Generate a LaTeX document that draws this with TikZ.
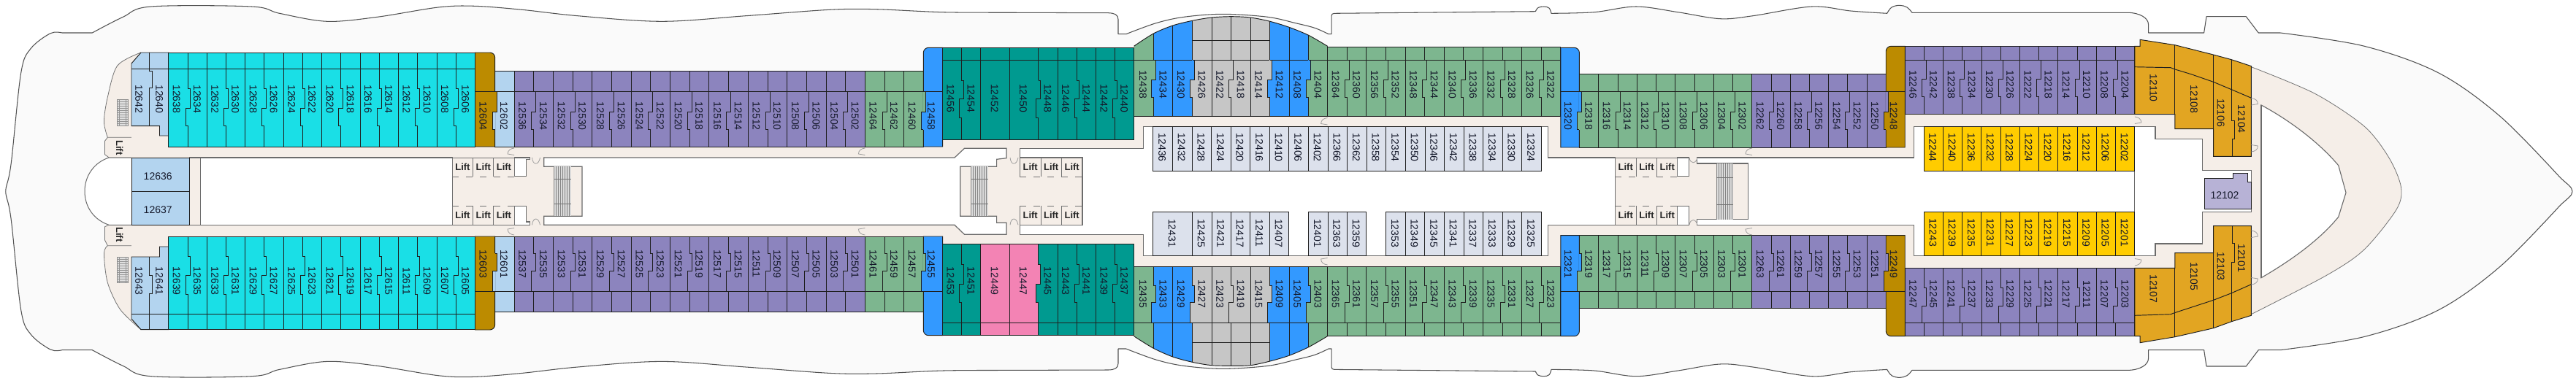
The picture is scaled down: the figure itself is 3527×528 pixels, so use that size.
\documentclass[tikz,border=0pt]{standalone}
\usepackage{fontspec}
\setmainfont{Liberation Sans}
\definecolor{ccyan}{HTML}{1ADFE6}
\definecolor{clblue}{HTML}{B3D4EF}
\definecolor{cgold}{HTML}{BC8B00}
\definecolor{cpurple}{HTML}{8C84BE}
\definecolor{cgreen}{HTML}{7DB68F}
\definecolor{cblue}{HTML}{3399FF}
\definecolor{cteal}{HTML}{009A90}
\definecolor{cgrey}{HTML}{C6C6C6}
\definecolor{cpale}{HTML}{DCE1EC}
\definecolor{cyellow}{HTML}{FFCC00}
\definecolor{corange}{HTML}{E2A522}
\definecolor{cpink}{HTML}{F383B4}
\definecolor{clav}{HTML}{B7B2D6}
\definecolor{cbeige}{HTML}{F5EEE8}
\definecolor{cdeck}{HTML}{FAFAFA}
\definecolor{cink}{HTML}{14182A}
\tikzset{
 wall/.style={draw=black!88,line width=0.95pt,line join=miter},
 hull/.style={draw=black!68,line width=1.05pt,line join=round},
 corr/.style={draw=black!58,line width=1.2pt},
 thin/.style={draw=black!55,line width=0.8pt},
 doorl/.style={draw=black!38,line width=0.8pt},
 cab/.style={inner sep=0pt,rotate=-90,text=cink,font=\fontsize{14}{14}\selectfont},
 cabh/.style={inner sep=0pt,text=cink,font=\fontsize{14}{14}\selectfont},
 lifttxt/.style={inner sep=0pt,text=black!85,font=\bfseries\fontsize{13}{13}\selectfont}
}
\newcommand\setrow[7]{\def\Yt{#1}\def\Yb{#2}\def\Ye{#3}\def\Ja{#4}\def\Jb{#5}\def\Jc{#6}\def\Ly{#7}}
\newcommand\cabins[5]{%
 \gdef\NN{0}%
 \foreach \q in {#5}{\pgfmathtruncatemacro\tmpn{\NN+1}\global\let\NN\tmpn}%
 \fill[#1] (#2,\Yt) rectangle (#3,\Ye);
 \draw[wall] (#2,\Yt) rectangle (#3,\Ye);
 \draw[wall] (#2,\Yb) -- (#3,\Yb);
 \foreach \lab [count=\i] in {#5}{%
  \pgfmathsetmacro\xm{#2+(\i-.5)*(#3-#2)/\NN}%
  \pgfmathsetmacro\xr{#2+\i*(#3-#2)/\NN}%
  \pgfmathtruncatemacro\rj{#4<2 ? (mod(\i+#4,2)==0 ? 1 : 0) : 0}%
  \pgfmathtruncatemacro\lj{#4<2 ? (mod(\i-1+#4,2)==0 ? 1 : 0) : 0}%
  \pgfmathsetmacro\lsh{\rj==1 ? -2.2 : (\lj==1 ? -0.3 : -1)}%
  \node[cab,name=c\lab] at (\xm+\lsh,\Ly) {\lab};
  \ifnum\i<\NN
   \ifnum\rj=1
    \draw[wall] (\xr,\Yt)--(\xr,\Ja)--(\xr+3,\Ja)--(\xr+3,\Jb)--(\xr-3,\Jb)--(\xr-3,\Jc)--(\xr,\Jc)--(\xr,\Ye);
   \else
    \draw[wall] (\xr,\Yt)--(\xr,\Ye);
   \fi
  \fi
 }}
\newcommand\bwall[3]{%
 \fill[#2] (#1-.6,\Ja) rectangle (#1+3,\Jb);
 \fill[#3] (#1-3,\Jb) rectangle (#1+.6,\Jc);
 \draw[wall] (#1,\Ja)--(#1+3,\Ja)--(#1+3,\Jb)--(#1-3,\Jb)--(#1-3,\Jc)--(#1,\Jc);}
\newcommand\tallcab[7]{% colour, plain x, rounded x, outer y, inner y, balcony y, label
 \filldraw[wall,fill=#1] (#2,#5)--(#2,#4)[rounded corners=7pt]--(#3,#4)[sharp corners]--(#3,#5)--cycle;
 \draw[wall] (#2,#6)--(#3,#6);
 \pgfmathsetmacro\xm{(#2+#3)/2-2.6}%
 \node[cab,name=c#7] at (\xm,\Ly) {#7};}
\newcommand\lifts[5]{%
 \draw[thin] (#1,216)--(#1,242) (#2,216)--(#2,242) (#3,216)--(#3,242) (#4,216)--(#4,242);
 \draw[thin] (#1,282.3)--(#1,308.3) (#2,282.3)--(#2,308.3) (#3,282.3)--(#3,308.3) (#4,282.3)--(#4,308.3);
 \draw[thin,dash pattern=on 9pt off 10pt] (#1,242.3)--(#4+4,242.3) (#1,282.3)--(#4+4,282.3);
 \draw[thin] (#1,216)--(#4,216) (#1,308.3)--(#4,308.3);
 \pgfmathsetmacro\la{(#1+#2)/2}\pgfmathsetmacro\lb{(#2+#3)/2}\pgfmathsetmacro\lc{(#3+#4)/2}%
 \node[lifttxt,name=l#5a] at (\la,229) {Lift};
 \node[lifttxt,name=l#5b] at (\lb,229) {Lift};
 \node[lifttxt,name=l#5c] at (\lc,229) {Lift};
 \node[lifttxt,name=l#5d] at (\la,295) {Lift};
 \node[lifttxt,name=l#5e] at (\lb,295) {Lift};
 \node[lifttxt,name=l#5f] at (\lc,295) {Lift};}
\newcommand\stairsv[6]{% xa xb ya yb ym1 ym2
 \fill[black!14] (#1,#3) rectangle (#2,#4);
 \foreach \sx in {0,3,...,21}{\draw[black!48,line width=0.7pt] (#1+\sx,#3)--(#1+\sx,#4);}
 \draw[black!55,line width=0.8pt] (#1,#5)--(#2,#5) (#1,#6)--(#2,#6);}
\newcommand\grate[4]{% xa xb ya yb
 \filldraw[fill=black!12,draw=black!45,line width=0.7pt] (#1,#3) rectangle (#2,#4);
 \foreach \sy in {3,6,...,34}{\draw[black!42,line width=0.6pt] (#1,#3+\sy)--(#2,#3+\sy);}
 \draw[black!42,line width=0.6pt] (#1+2.5,#3)--(#1+2.5,#4) (#2-2.5,#3)--(#2-2.5,#4);}
\newcommand\door[4]{\draw[doorl,shift={(#1,#2)},xscale=#3,yscale=#4] (0,0) .. controls (-5,0.5) and (-9,3) .. (-9,8) -- (0,9.5);}
\newcommand\doorU[3]{\draw[doorl] (#1,#2) .. controls (#1+1,#2+#3) and (#1+9,#2+#3) .. (#1+11,#2);}
\def\shippath{plot[smooth,tension=0.55] coordinates {(8,262.35)(8.4,256.7)(15.3,223.3)(28.7,100)(42,66.7)(69,45.7)(85,45)} -- (126.3,45)
 -- plot[smooth,tension=0.55] coordinates {(126.3,45)(168.4,23.3)(206.7,9)(344.4,9)(382.7,18.3)(447.7,29.3)(516.6,23.3)(600,10)(649.8,8.3)(714.8,13.3)(791,21.7)(906,29.3)(1021,21.7)(1135.8,13.3)(1200,12.7)(1291.8,16.7)(1400,17.3)(1517.6,17.7)}
 .. controls (1526,18) and (1531,20) .. (1531,26.7) -- (1531,46.7) -- (1541.8,46.7)
 -- plot[smooth,tension=0.55] coordinates {(1541.8,46.7)(1582.7,31.7)(1621,23.3)(1674.5,19.3)(1735.8,23.3)(1774,31.7)(1800,38.3)(1819,46.7)}
 -- (1823,46.7) -- (1823,21.7) .. controls (1823,19.5) and (1824.5,18.4) .. (1826.8,18.3) -- (2102.3,15.7)
 -- plot[smooth,tension=0.6] coordinates {(2102.3,15.7)(2106,10.5)(2113.8,9)(2121,11)(2124,18.3)}
 -- plot[smooth,tension=0.55] coordinates {(2124,18.3)(2182.7,16.7)(2240,9)(2297.5,16.7)(2355,25.7)(2400,21.7)(2480.4,9)(2534,15)(2583.7,18.3)}
 -- plot[smooth,tension=0.6] coordinates {(2583.7,18.3)(2590,10)(2601,7.3)(2611,10)(2618,17.3)}
 -- (2912.8,17.3) .. controls (2930,17.3) and (2941.5,25) .. (2941.5,33.3) -- (2941.5,45) -- (3017.6,45) -- (3021,22.7) -- (3075.3,22.7) -- (3092.2,45) -- (3122,45)
 -- plot[smooth,tension=0.55] coordinates {(3122,45)(3237.3,63.3)(3339,100)(3423.7,160)(3505,243)}
 .. controls (3514,252) and (3522,256) .. (3522,262.35)}
\def\arcT{plot[smooth] coordinates {(1552.5,63.3)(1579.3,46)(1605.7,35)(1632.5,28.3)(1658.9,24)(1685.6,22.7)(1712,24)(1738.8,29.3)(1764.9,37.3)(1791.6,48.3)(1817.6,63.3)}}
\def\arcB{plot[smooth] coordinates {(1552.5,460.7)(1579.3,477.3)(1605.7,489)(1632.5,496.3)(1658.9,500.7)(1685.6,501.3)(1712,500.7)(1738.8,495)(1764.9,487.3)(1791.6,475.7)(1817.6,460.7)}}
\newcommand\arcbalc[3]{% clip path macro, y from, y to
 \begin{scope}
  \clip #1 -- (1817.6,#2) -- (1552.5,#2) -- cycle;
  \fill[cgreen] (1552.5,#3) rectangle (1579.3,#2);
  \fill[cblue] (1579.3,#3) rectangle (1632.5,#2);
  \fill[cgrey] (1632.5,#3) rectangle (1738.8,#2);
  \fill[cblue] (1738.8,#3) rectangle (1791.6,#2);
  \fill[cgreen] (1791.6,#3) rectangle (1817.6,#2);
  \foreach \wx in {1579.3,1605.9,1632.5,1659.1,1685.7,1712.3,1738.8,1765.2,1791.6,1817.6}{\draw[wall] (\wx,#3)--(\wx,#2);}
 \end{scope}
 \draw[wall] #1;}
\begin{document}
\begin{tikzpicture}[x=1pt,y=-1pt]
\useasboundingbox (0,0) rectangle (3527,528);
\fill[white] (0,0) rectangle (3527,528);
% deck
\fill[cdeck] \shippath -- cycle;
\draw[hull] \shippath;
\begin{scope}[shift={(0,524.7)},yscale=-1]
\fill[cdeck] \shippath -- cycle;
\draw[hull] \shippath;
\end{scope}
\draw[cdeck,line width=1.5pt] (9,262.35)--(3521,262.35);
% stern beige
\fill[cbeige] plot[smooth] coordinates {(193,72)(160.7,90)(147.3,133.3)(142.4,166.7)(147.3,188.3)} -- (143.5,193.3)--(143.5,211.7)--(149.3,216)--(200,216)--(200,72)--cycle;
\draw[thin] plot[smooth] coordinates {(193,72)(160.7,90)(147.3,133.3)(142.4,166.7)(147.3,188.3)} -- (180,188.3);
\draw[thin] (147.3,188.3)--(143.5,193.3)--(143.5,211.7)--(149.3,216)--(180,216);
\fill[cbeige] plot[smooth] coordinates {(193,451.7)(164.5,424)(147.3,387.3)(142.4,347.3)(147.3,336.7)} -- (143.5,329)--(143.5,310.7)--(149.3,308.3)--(200,308.3)--(200,451.7)--cycle;
\draw[thin] plot[smooth] coordinates {(193,451.7)(164.5,424)(147.3,387.3)(142.4,347.3)(147.3,336.7)} -- (180,336.7);
\draw[thin] (147.3,336.7)--(143.5,329)--(143.5,310.7)--(149.3,308.3)--(180,308.3);
\draw[thin] (180,188.3)--(180,192) (180,212)--(180,216) (180,308.3)--(180,312) (180,332)--(180,336.7);
% stern notch
\filldraw[fill=white,draw=black!58,line width=1pt] (180,216)--(149.3,216) .. controls (130,222) and (116,240) .. (116,262) .. controls (116,285) and (130,302) .. (149.3,308.3)--(180,308.3);
% bow crescent
\fill[cbeige] plot[smooth] coordinates {(3082.4,91.7)(3169.5,128.3)(3237.3,173.3)(3271.2,216.7)(3287.5,256.7)(3281,287.3)(3237,342)(3186,377)(3082.4,430.7)} -- cycle;
\draw[thin] plot[smooth] coordinates {(3082.4,91.7)(3169.5,128.3)(3237.3,173.3)(3271.2,216.7)(3287.5,256.7)(3281,287.3)(3237,342)(3186,377)(3082.4,430.7)};
% main floor
\fill[cbeige] (180,130) rectangle (3096,395);
\filldraw[fill=white,draw=black!58,line width=1.1pt] (3096,144) .. controls (3135,165) and (3175,195) .. (3201.7,226.7) -- (3212,264) -- (3201.7,297.3) .. controls (3175,330) and (3135,358) .. (3096,380.7) -- cycle;
% holes
\filldraw[fill=white,corr] (274.4,216) rectangle (619.1,308.3);
\draw[corr] (259,216)--(274.4,216) (259,308.3)--(274.4,308.3);
\filldraw[fill=white,corr] (704.1,216)--(725.5,216)--(725.5,218.3)--(720.5,218.3)--(720.5,241.7)--(704.1,241.7)--cycle;
\filldraw[fill=white,corr] (704.1,308.3)--(725.5,308.3)--(725.5,304)--(720.5,304)--(720.5,282.3)--(704.1,282.3)--cycle;
\filldraw[fill=white,corr] (744.7,216)--(1307,216)--(1320.5,203.3)--(1378,203.3)--(1378,216.7)--(1364.6,218.3)--(1364.6,228.3)--(1314.8,228.3)--(1314.8,296.3)--(1364.6,296.3)--(1364.6,305.3)--(1378,305.3)--(1378,321.3)--(1320.5,321.3)--(1307,308.3)--(744.7,308.3)--(744.7,296.3)--(797,296.3)--(797,228.3)--(744.7,228.3)--cycle;
\filldraw[fill=white,corr] (1396.3,203.3)--(1565.5,203.3)--(1565.5,173.7)--(2119.6,173.7)--(2119.6,216)--(2211.4,216)--(2211.4,308.3)--(2119.6,308.3)--(2119.6,350.7)--(1565.5,350.7)--(1565.5,321.3)--(1396.3,321.3)--(1396.3,308.3)--(1482,308.3)--(1482,216)--(1396.3,216)--cycle;
\filldraw[fill=white,corr] (2296.7,216)--(2312.8,216)--(2312.8,241.7)--(2296.7,241.7)--cycle;
\filldraw[fill=white,corr] (2296.7,282.3)--(2312.8,282.3)--(2312.8,308.3)--(2296.7,308.3)--cycle;
\filldraw[fill=white,corr] (2323.5,216)--(2620.8,216)--(2620.8,173.7)--(2922.8,173.7)--(2922.8,350.7)--(2620.8,350.7)--(2620.8,308.3)--(2323.5,308.3)--(2323.5,300.7)--(2393.2,300.7)--(2393.2,224)--(2323.5,224)--cycle;
\filldraw[fill=white,corr] (2922.8,173.7)--(2951,173.7)--(2951,190.7)--(3015.3,190.7)--(3015.3,233.3)--(3082.4,233.3)--(3082.4,290.7)--(3015.3,290.7)--(3015.3,334)--(2951,334)--(2951,350.7)--(2922.8,350.7)--cycle;
\draw[corr] (3096,144)--(3096,380.7);
% lobby details
\lifts{619.1}{647.8}{675.8}{704.1}{A}
\lifts{1396.3}{1425}{1453.3}{1482}{B}
\lifts{2211.4}{2240.1}{2268.8}{2296.7}{C}
\stairsv{758.8}{781.8}{228.3}{296.3}{245.7}{279}
\stairsv{1329.8}{1352.8}{228.3}{296.3}{245.7}{279}
\stairsv{2350.3}{2373.3}{224}{300.7}{243.3}{280}
\grate{160.7}{174.9}{136.7}{172.7}
\grate{160.7}{174.9}{352.3}{387.3}
\node[lifttxt,rotate=-90,name=lS1] at (163.8,202.3) {Lift};
\node[lifttxt,rotate=-90,name=lS2] at (163.8,321.3) {Lift};
% stern cabins
\filldraw[wall,fill=clblue] (180,216) rectangle (259,262.3);
\filldraw[wall,fill=clblue] (180,262.3) rectangle (259,308.3);
\node[cabh,name=c12636] at (216.2,241.7) {12636};
\node[cabh,name=c12637] at (216.2,287.3) {12637};
\filldraw[wall,fill=clblue] (180,94.3)--(180,87)--(193,72)--(230.8,72)--(230.8,186)--(218.5,186)--(218.5,172.7)--(180,172.7)--cycle;
\draw[wall] (180,94.3)--(230.8,94.3);
\draw[wall] (204.7,72)--(204.7,97)--(208.5,97)--(208.5,120)--(204.7,120)--(204.7,172.7);
\node[cab,name=c12642] at (190.2,135.8) {12642};
\node[cab,name=c12640] at (218.1,135.8) {12640};
\filldraw[wall,fill=clblue] (180,352)--(218.5,352)--(218.5,338)--(230.8,338)--(230.8,451.7)--(193,451.7)--(180,437)--cycle;
\draw[wall] (180,430.7)--(230.8,430.7);
\draw[wall] (204.7,352)--(204.7,377.3)--(208.5,377.3)--(208.5,402.3)--(204.7,402.3)--(204.7,451.7);
\node[cab,name=c12643] at (190.2,385.2) {12643};
\node[cab,name=c12641] at (218.1,385.2) {12641};
% --- top side
\setrow{72}{94.3}{201}{121.7}{148.3}{172.7}{135.8}
\cabins{ccyan}{230.8}{650.5}{1}{12638,12634,12632,12630,12628,12626,12624,12622,12620,12618,12616,12614,12612,12610,12608,12606}
\setrow{97.7}{125.7}{201}{125.7}{153.3}{177.7}{159.3}
\cabins{clblue}{677.7}{704.1}{2}{12602}
\cabins{cpurple}{704.1}{1184.4}{1}{12536,12534,12532,12530,12528,12526,12524,12522,12520,12518,12516,12514,12512,12510,12508,12506,12504,12502}
\cabins{cgreen}{1184.4}{1264.3}{1}{12464,12462,12460}
\tallcab{cgold}{650.5}{677.7}{72}{201}{125.7}{12604}
\bwall{677.7}{cgold}{clblue}
\tallcab{cblue}{1290.7}{1264.3}{65.3}{201}{125.7}{12458}
\bwall{1264.3}{cgreen}{cblue}
\setrow{65.3}{82.3}{191}{110}{135}{161.7}{134.5}
\cabins{cteal}{1290.7}{1342.7}{1}{12456,12454}
\cabins{cteal}{1342.7}{1382.5}{2}{12452}
\cabins{cteal}{1382.5}{1421.6}{2}{12450}
\cabins{cteal}{1421.6}{1448}{0}{12448}
\cabins{cteal}{1448}{1500.8}{1}{12446,12444}
\cabins{cteal}{1500.8}{1552.5}{1}{12442,12440}
\bwall{1421.6}{cteal}{cteal}
\arcbalc{\arcT}{82.3}{20}
\draw[wall] (1632.5,55)--(1738.8,55);
\setrow{82.3}{82.3}{159.3}{82.3}{109}{133.3}{115.5}
\cabins{cgreen}{1552.5}{1579.3}{2}{12438}
\cabins{cblue}{1579.3}{1632.5}{0}{12434,12430}
\cabins{cgrey}{1632.5}{1738.8}{0}{12426,12422,12418,12414}
\cabins{cblue}{1738.8}{1791.6}{0}{12412,12408}
\cabins{cgreen}{1791.6}{1817.6}{0}{12404}
\bwall{1579.3}{cgreen}{cblue}
\bwall{1632.5}{cblue}{cgrey}
\bwall{1738.8}{cgrey}{cblue}
\bwall{1791.6}{cblue}{cgreen}
\setrow{64.3}{82.3}{159.3}{82.3}{109}{133.3}{115.5}
\cabins{cgreen}{1817.6}{2136.8}{1}{12364,12360,12356,12352,12348,12344,12340,12336,12332,12328,12326,12322}
\setrow{173.7}{173.7}{234.3}{173.7}{173.7}{173.7}{202.2}
\cabins{cpale}{1578.9}{2110.4}{2}{12436,12432,12428,12424,12420,12416,12410,12406,12402,12366,12362,12358,12354,12350,12346,12342,12338,12334,12330,12324}
\cabins{cyellow}{2634.2}{2922.8}{2}{12244,12240,12236,12232,12228,12224,12220,12216,12212,12206,12202}
\setrow{101}{125.7}{202}{125.7}{153.3}{177.7}{158.8}
\cabins{cgreen}{2162.4}{2398.9}{0}{12318,12316,12314,12312,12310,12308,12306,12304,12302}
\cabins{cpurple}{2398.9}{2582.2}{1}{12262,12260,12258,12256,12254,12252,12250}
\tallcab{cblue}{2136.8}{2162.4}{65.3}{202}{125.7}{12320}
\bwall{2162.4}{cblue}{cgreen}
\tallcab{cgold}{2608.2}{2582.2}{63.3}{202}{125.7}{12248}
\bwall{2582.2}{cpurple}{cgold}
\setrow{63.3}{82.3}{156.7}{82.3}{108.3}{132.7}{115.8}
\cabins{cpurple}{2608.2}{2922.8}{1}{12246,12242,12238,12234,12230,12226,12222,12218,12214,12210,12208,12204}
% --- bottom side
\setrow{324}{430.7}{451.7}{351.3}{377.3}{403.3}{385.2}
\cabins{ccyan}{230.8}{650.5}{1}{12639,12635,12633,12631,12629,12627,12625,12623,12621,12619,12617,12615,12611,12609,12607,12605}
\setrow{324}{399}{427.3}{347.3}{371.7}{399}{361.5}
\cabins{clblue}{677.7}{704.1}{2}{12601}
\cabins{cpurple}{704.1}{1184.4}{1}{12537,12535,12533,12531,12529,12527,12525,12523,12521,12519,12517,12515,12511,12509,12507,12505,12503,12501}
\cabins{cgreen}{1184.4}{1264.3}{1}{12461,12459,12457}
\tallcab{cgold}{650.5}{677.7}{452}{324}{399}{12603}
\bwall{677.7}{cgold}{clblue}
\tallcab{cblue}{1290.7}{1264.3}{459.7}{324}{399}{12455}
\bwall{1264.3}{cgreen}{cblue}
\setrow{334}{442.3}{459.3}{362.7}{389}{414.7}{385.2}
\cabins{cteal}{1290.7}{1342.7}{1}{12453,12451}
\cabins{cpink}{1342.7}{1382.5}{2}{12449}
\cabins{cpink}{1382.5}{1421.6}{2}{12447}
\cabins{cteal}{1421.6}{1448}{0}{12445}
\cabins{cteal}{1448}{1500.8}{1}{12443,12441}
\cabins{cteal}{1500.8}{1552.5}{1}{12439,12437}
\bwall{1421.6}{cpink}{cteal}
\arcbalc{\arcB}{442.3}{505}
\draw[wall] (1632.5,469.7)--(1738.8,469.7);
\setrow{365.7}{442.3}{442.3}{391.7}{414.7}{442.3}{402.8}
\cabins{cgreen}{1552.5}{1579.3}{2}{12435}
\cabins{cblue}{1579.3}{1632.5}{0}{12433,12429}
\cabins{cgrey}{1632.5}{1738.8}{0}{12427,12423,12419,12415}
\cabins{cblue}{1738.8}{1791.6}{0}{12409,12405}
\cabins{cgreen}{1791.6}{1817.6}{0}{12403}
\bwall{1579.3}{cgreen}{cblue}
\bwall{1632.5}{cblue}{cgrey}
\bwall{1738.8}{cgrey}{cblue}
\bwall{1791.6}{cblue}{cgreen}
\setrow{365.7}{442.3}{460.7}{391.7}{414.7}{442.3}{402.8}
\cabins{cgreen}{1817.6}{2136.8}{1}{12365,12361,12357,12355,12351,12347,12343,12339,12335,12331,12327,12323}
\setrow{290.7}{290.7}{350.7}{290.7}{290.7}{290.7}{319.5}
\cabins{cpale}{1578.9}{1632.5}{2}{12431}
\cabins{cpale}{1632.5}{1764.9}{2}{12425,12421,12417,12411,12407}
\cabins{cpale}{1791.6}{1870.8}{2}{12401,12363,12359}
\cabins{cpale}{1897.6}{2110.4}{2}{12353,12349,12345,12341,12337,12333,12329,12325}
\setrow{290.7}{290.7}{350.7}{290.7}{290.7}{290.7}{318.5}
\cabins{cyellow}{2634.2}{2922.8}{2}{12243,12239,12235,12231,12227,12223,12219,12215,12209,12205,12201}
\setrow{322.7}{399.3}{422.3}{347.3}{371.7}{399.3}{361.8}
\cabins{cgreen}{2162.4}{2398.9}{0}{12319,12317,12315,12311,12309,12307,12305,12303,12301}
\cabins{cpurple}{2398.9}{2582.2}{1}{12263,12261,12259,12257,12255,12253,12251}
\tallcab{cblue}{2136.8}{2162.4}{460.7}{322.7}{399.3}{12321}
\bwall{2162.4}{cblue}{cgreen}
\tallcab{cgold}{2608.2}{2582.2}{460.7}{322.7}{399.3}{12249}
\bwall{2582.2}{cpurple}{cgold}
\setrow{367.3}{442.3}{460}{394}{419}{442.3}{403.2}
\cabins{cpurple}{2608.2}{2922.8}{1}{12247,12245,12241,12237,12233,12229,12225,12221,12217,12211,12207,12203}
% --- bow suites
\filldraw[wall,fill=corange] (2922.8,156.7)--(2922.8,63.3)--(2930,63.3)--(2930,54.3)--(2977.9,61.7)--(3030.5,75)--(3055.3,81.7)--(3082.4,90.7)--(3082.4,214.3)--(3030.5,214.3)--(3030.5,176.7)--(2977.9,176.7)--(2977.9,156.7)--cycle;
\draw[wall] (2922.8,91.7)--(2972,92.7)--(2977.9,95)--(3000,101.7)--(3030.5,112.3)--(3055.3,122.7)--(3082.4,134.3);
\draw[wall] (2977.9,61.7)--(2977.9,156.7) (3030.5,75)--(3030.5,176.7);
\draw[wall] (3055.3,81.7)--(3055.3,165)--(3059.3,165)--(3059.3,190)--(3056,190)--(3056,214.3);
\node[cab,name=c12110] at (2948.4,120.8) {12110};
\node[cab,name=c12108] at (3004,136) {12108};
\node[cab,name=c12106] at (3040.7,154.5) {12106};
\node[cab,name=c12104] at (3068.8,163.3) {12104};
\filldraw[wall,fill=corange] (2922.8,367.3)--(2977.9,367.3)--(2977.9,346.7)--(3030.5,346.7)--(3030.5,309.7)--(3082.4,309.7)--(3082.4,432.3)--(3055.3,440.7)--(3030.5,449.7)--(3000,456.7)--(2977.9,461.7)--(2930,469.7)--(2930,460.7)--(2922.8,460.7)--cycle;
\draw[wall] (2922.8,432.3)--(2972,430.7)--(2977.9,428.5)--(3000,421.3)--(3030.5,411.3)--(3055.3,401.7)--(3082.4,389.7);
\draw[wall] (2977.9,367.3)--(2977.9,461.7) (3030.5,346.7)--(3030.5,449.7);
\draw[wall] (3056,309.7)--(3056,333.3)--(3059.3,333.3)--(3059.3,359)--(3055.3,359)--(3055.3,440.7);
\node[cab,name=c12107] at (2948.4,395.7) {12107};
\node[cab,name=c12105] at (3004,378.7) {12105};
\node[cab,name=c12103] at (3040.7,365.2) {12103};
\node[cab,name=c12101] at (3068.8,353.7) {12101};
\filldraw[wall,fill=clav] (3018.6,244.3)--(3057,244.3)--(3057,237.7)--(3077.3,237.7)--(3077.3,249)--(3082.4,249)--(3082.4,286.3)--(3018.6,286.3)--cycle;
\node[cabh,name=c12102] at (3046,268) {12102};
% doors
\door{704.1}{203}{1}{1}\door{1184.4}{203}{1}{1}\door{1817.6}{161.5}{1}{1}\door{2399}{203}{1}{1}
\door{2922.8}{160}{-1}{1}\door{3082.4}{134.5}{-1}{1}\door{3082.4}{208}{-1}{-1}
\door{704.1}{322}{1}{-1}\door{1184.4}{322}{1}{-1}\door{1817.6}{363}{1}{-1}\door{2399}{322}{1}{-1}
\door{2922.8}{364}{-1}{-1}\door{3082.4}{390}{-1}{-1}\door{3082.4}{316}{-1}{1}
\doorU{728.5}{216}{11}\doorU{1383}{216}{11}\doorU{2313}{216}{9}
\doorU{728.5}{308.3}{-11}\doorU{1383}{308.3}{-11}\doorU{2313}{308.3}{-9}
\end{tikzpicture}
\end{document}
